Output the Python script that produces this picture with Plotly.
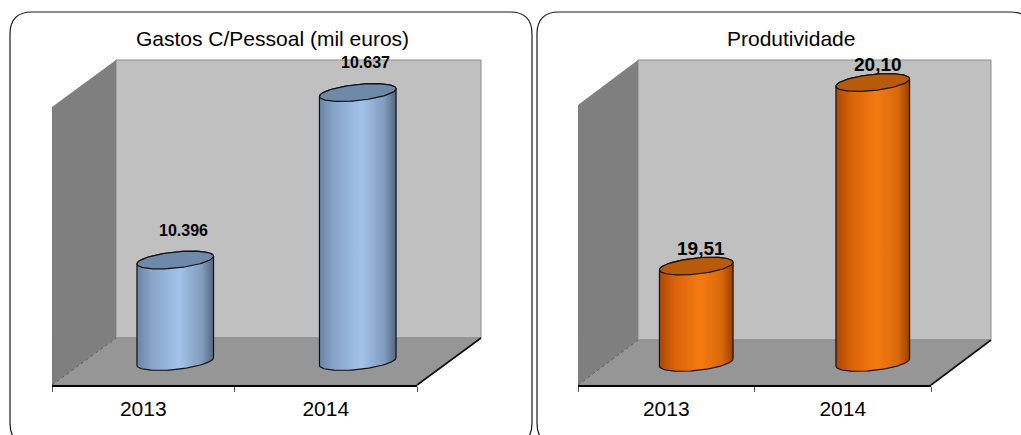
import numpy as np
import plotly.graph_objects as go

W, H = 1021, 435
FONT = "Liberation Sans, Arial, sans-serif"

# ---- data -------------------------------------------------------------
years = ["2013", "2014"]
gastos_pessoal = [10396, 10637]      # mil euros
produtividade = [19.51, 20.10]


def fmt_milhares(v):
    return f"{v:,.0f}".replace(",", ".")


def fmt_decimal(v):
    return f"{v:.2f}".replace(".", ",")


# ---- panel geometry / style (pixels) ----------------------------------
panels = [
    dict(title="Gastos C/Pessoal (mil euros)", values=gastos_pessoal, fmt=fmt_milhares,
         yrange=(10250, 10650), x0=52, x1=417, yf=385, dx=64, dy=47, h=278,
         box=(10, 532), title_x=272, a=38.5, b=8.0, label_size=16, label_dx=8, label_dy=30,
         body=[[0, "#6b83a4"], [0.18, "#86a3c8"], [0.55, "#a3c3ea"], [0.85, "#809bbd"], [1, "#55667e"]],
         cap="#6f89ab"),
    dict(title="Produtividade", values=produtividade, fmt=fmt_decimal,
         yrange=(19.2, 20.1), x0=578, x1=931, yf=385, dx=60, dy=45, h=280,
         box=(537, 1032), title_x=791, a=37.0, b=8.0, label_size=19, label_dx=5, label_dy=18,
         body=[[0, "#a84800"], [0.2, "#d9620a"], [0.55, "#f57a12"], [0.85, "#d8680a"], [1, "#984000"]],
         cap="#b85a0c"),
]

TILT = np.deg2rad(6)
PAD = 20  # extra room so ellipses are not clipped at the axis limits


def PX(x):
    return x / W


def PY(y):
    return 1 - y / H


def poly(pts):
    return "M " + " L ".join(f"{PX(x):.5f},{PY(y):.5f}" for x, y in pts) + " Z"


def rounded_box(x0, x1, y0, y1, r):
    p = lambda x, y: f"{PX(x):.5f},{PY(y):.5f}"
    return (f"M {p(x0, y1 - r)} L {p(x0, y0 + r)} Q {p(x0, y0)} {p(x0 + r, y0)} "
            f"L {p(x1 - r, y0)} Q {p(x1, y0)} {p(x1, y0 + r)} L {p(x1, y1 - r)} "
            f"Q {p(x1, y1)} {p(x1 - r, y1)} L {p(x0 + r, y1)} Q {p(x0, y1)} {p(x0, y1 - r)} Z")


fig = go.Figure()
shapes, annotations, layout_axes = [], [], {}

for k, P in enumerate(panels):
    fx, fy = f"x{2*k+1 if k else ''}", f"y{2*k+1 if k else ''}"
    bx, by = f"x{2*k+2}", f"y{2*k+2}"
    fxa, fya = "xaxis" + fx[1:], "yaxis" + fy[1:]
    bxa, bya = "xaxis" + bx[1:], "yaxis" + by[1:]

    x0, x1, yf, dx, dy, h = P["x0"], P["x1"], P["yf"], P["dx"], P["dy"], P["h"]
    ymin, ymax = P["yrange"]

    # panel frame
    shapes.append(dict(type="path", xref="paper", yref="paper", layer="below",
                       path=rounded_box(P["box"][0], P["box"][1], 12, 445, 22),
                       line=dict(color="#1a1a1a", width=1.2), fillcolor="white"))
    # back wall, side wall, floor
    shapes.append(dict(type="path", xref="paper", yref="paper", layer="below",
                       path=poly([(x0 + dx, yf - dy - h), (x1 + dx, yf - dy - h),
                                  (x1 + dx, yf - dy), (x0 + dx, yf - dy)]),
                       fillcolor="#c0c0c0", line=dict(color="#8c8c8c", width=1)))
    shapes.append(dict(type="path", xref="paper", yref="paper", layer="below",
                       path=poly([(x0, yf - h), (x0 + dx, yf - dy - h), (x0 + dx, yf - dy), (x0, yf)]),
                       fillcolor="#7f7f7f", line=dict(width=0)))
    shapes.append(dict(type="path", xref="paper", yref="paper", layer="below",
                       path=poly([(x0, yf), (x0 + dx, yf - dy), (x1 + dx, yf - dy), (x1, yf)]),
                       fillcolor="#969696", line=dict(color="#8c8c8c", width=1)))
    shapes.append(dict(type="line", xref="paper", yref="paper", layer="below",
                       x0=PX(x0), y0=PY(yf), x1=PX(x0 + dx), y1=PY(yf - dy),
                       line=dict(color="#5a5a5a", width=1, dash="dot")))
    shapes.append(dict(type="line", xref="paper", yref="paper", layer="below",
                       x0=PX(x1), y0=PY(yf), x1=PX(x1 + dx), y1=PY(yf - dy),
                       line=dict(color="#111111", width=1.6)))

    # front category axis (labels and boundary ticks)
    layout_axes[fxa] = dict(domain=[PX(x0), PX(x1)], anchor=fy, type="category",
                            categoryorder="array", categoryarray=years, range=[-0.5, 1.5],
                            showline=True, linecolor="black", linewidth=2,
                            ticks="outside", tickson="boundaries", ticklen=5,
                            tickcolor="#555555", tickwidth=1, showgrid=False, zeroline=False,
                            ticklabelstandoff=4,
                            tickfont=dict(family=FONT, size=21, color="black"),
                            fixedrange=True)
    layout_axes[fya] = dict(domain=[PY(yf), PY(yf - h)], anchor=fx, range=[0, 1],
                            visible=False, fixedrange=True)
    fig.add_trace(go.Scatter(x=years, y=[0.5, 0.5], xaxis=fx, yaxis=fy, mode="markers",
                             marker=dict(opacity=0), hoverinfo="skip", showlegend=False))

    # bar plane at mid depth
    bx0, bx1 = x0 + dx / 2, x1 + dx / 2
    ybase, ytop = yf - dy / 2, yf - dy / 2 - h
    ppx = (bx1 - bx0) / 2.0
    ppy = (ybase - ytop) / (ymax - ymin)
    layout_axes[bxa] = dict(domain=[PX(bx0), PX(bx1)], anchor=by, range=[-0.5, 1.5],
                            visible=False, fixedrange=True)
    layout_axes[bya] = dict(domain=[PY(ybase + PAD), PY(ytop - PAD)], anchor=bx,
                            range=[ymin - PAD / ppy, ymax + PAD / ppy],
                            visible=False, fixedrange=True)

    a, b = P["a"], P["b"]

    def ell(cx, cy, t):
        ex = a * np.cos(t) * np.cos(TILT) - b * np.sin(t) * np.sin(TILT)
        ey = a * np.cos(t) * np.sin(TILT) + b * np.sin(t) * np.cos(TILT)
        return cx + ex / ppx, cy + ey / ppy

    for i, v in enumerate(P["values"]):
        tx, ty = ell(i, v, np.linspace(np.pi, 0, 80))
        bxs, bys = ell(i, ymin, np.linspace(0, -np.pi, 80))
        xs = np.concatenate([tx, bxs, tx[:1]])
        ys = np.concatenate([ty, bys, ty[:1]])
        fig.add_trace(go.Scatter(x=xs, y=ys, xaxis=bx, yaxis=by, mode="lines", fill="toself",
                                 fillgradient=dict(type="horizontal", colorscale=P["body"]),
                                 line=dict(color="#111111", width=1.2),
                                 hoverinfo="skip", showlegend=False))
        cxs, cys = ell(i, v, np.linspace(0, 2 * np.pi, 120))
        fig.add_trace(go.Scatter(x=cxs, y=cys, xaxis=bx, yaxis=by, mode="lines", fill="toself",
                                 fillcolor=P["cap"], line=dict(color="#111111", width=1.2),
                                 name=years[i], text=[P["fmt"](v)] * len(cxs),
                                 hovertemplate="%{text}<extra></extra>", showlegend=False))
        annotations.append(dict(xref=bx, yref=by, x=i, y=v, xshift=P["label_dx"],
                                yshift=P["label_dy"], text=f"<b>{P['fmt'](v)}</b>",
                                showarrow=False, font=dict(family=FONT, size=P["label_size"],
                                                           color="black")))

    annotations.append(dict(xref="paper", yref="paper", x=PX(P["title_x"]), y=PY(38),
                            text=P["title"], showarrow=False, xanchor="center", yanchor="middle",
                            font=dict(family=FONT, size=21, color="black")))

fig.update_layout(width=W, height=H, margin=dict(l=0, r=0, t=0, b=0),
                  paper_bgcolor="white", plot_bgcolor="rgba(0,0,0,0)",
                  shapes=shapes, annotations=annotations, showlegend=False,
                  **layout_axes)

fig.write_html("out.html", config={"displayModeBar": False})
